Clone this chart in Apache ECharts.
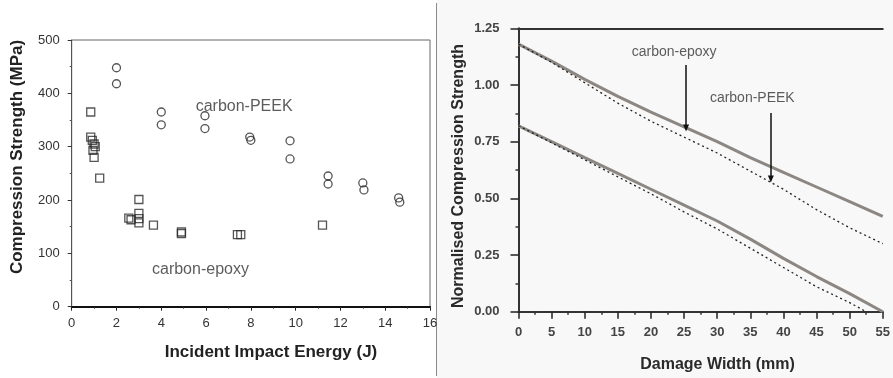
<!DOCTYPE html>
<html>
<head>
<meta charset="utf-8">
<script src="https://cdn.jsdelivr.net/npm/echarts@6/dist/echarts.min.js"></script>
<style>
html,body{margin:0;padding:0;background:#fff;}
#c{width:893px;height:378px;}
</style>
</head>
<body>
<div id="c"></div>
<script>
// ---- Left chart: compression strength vs impact energy ----
const peekEnergy   = [2.0, 2.0, 4.0, 4.0, 5.95, 5.95, 7.95, 8.0, 9.75, 9.75, 11.45, 11.45, 13.0, 13.05, 14.6, 14.65];
const peekStrength = [448, 418, 365, 341, 358, 334, 318, 312, 311, 277, 245, 230, 232, 219, 204, 196];
const epoxyEnergy   = [0.85, 0.85, 0.92, 1.0, 1.05, 0.95, 1.0, 1.25, 2.55, 2.65, 3.0, 3.0, 3.0, 3.0, 3.65, 4.9, 4.9, 7.4, 7.55, 11.2];
const epoxyStrength = [365, 318, 312, 305, 300, 293, 280, 241, 166, 163, 201, 175, 165, 157, 153, 140, 137, 135, 135, 153];
const leftXTicks = [0, 2, 4, 6, 8, 10, 12, 14, 16];
const leftYTicks = [0, 100, 200, 300, 400, 500];

// ---- Right chart: normalised strength vs damage width ----
const widthX        = [0, 5, 10, 15, 20, 25, 30, 35, 40, 45, 50, 55];
const upperSolid    = [1.18, 1.105, 1.025, 0.95, 0.88, 0.815, 0.75, 0.68, 0.615, 0.55, 0.485, 0.42];
const upperDotted   = [1.18, 1.10, 1.01, 0.92, 0.84, 0.77, 0.70, 0.62, 0.54, 0.45, 0.37, 0.30];
const lowerSolid    = [0.82, 0.75, 0.68, 0.61, 0.54, 0.47, 0.40, 0.32, 0.235, 0.155, 0.08, 0.0];
const lowerDottedX  = [0, 5, 10, 15, 20, 25, 30, 35, 40, 45, 50, 52.5];
const lowerDotted   = [0.82, 0.745, 0.67, 0.595, 0.52, 0.44, 0.365, 0.28, 0.195, 0.11, 0.04, 0.0];
const rightXTicks = [0, 5, 10, 15, 20, 25, 30, 35, 40, 45, 50, 55];
const rightYTicks = [0, 0.25, 0.5, 0.75, 1.0, 1.25];

const zip = (xs, ys) => xs.map((x, i) => [x, ys[i]]);
const FONT = '"Liberation Sans", Arial, sans-serif';

const chart = echarts.init(document.getElementById('c'), null, {renderer: 'canvas'});

const option = {
  animation: false,
  backgroundColor: '#ffffff',
  graphic: [
    {type: 'rect', shape: {x: 437, y: 0, width: 456, height: 378}, style: {fill: '#f8f8f8'}, z: -10, silent: true},
    {type: 'line', shape: {x1: 436.5, y1: 3, x2: 436.5, y2: 376}, style: {stroke: '#8a8a8a', lineWidth: 1}, silent: true},
    {type: 'text', x: 17.5, y: 157, rotation: Math.PI / 2,
      style: {text: 'Compression Strength (MPa)', font: 'bold 17px ' + FONT, fill: '#222', textAlign: 'center', textVerticalAlign: 'middle'}},
    {type: 'text', x: 271, y: 352,
      style: {text: 'Incident Impact Energy (J)', font: 'bold 17px ' + FONT, fill: '#222', textAlign: 'center', textVerticalAlign: 'middle'}},
    {type: 'text', x: 459, y: 176, rotation: Math.PI / 2,
      style: {text: 'Normalised Compression Strength', font: 'bold 16px ' + FONT, fill: '#2a2a2a', textAlign: 'center', textVerticalAlign: 'middle'}},
    {type: 'text', x: 717.5, y: 365,
      style: {text: 'Damage Width (mm)', font: 'bold 16px ' + FONT, fill: '#2a2a2a', textAlign: 'center', textVerticalAlign: 'middle'}}
  ],
  grid: [
    {left: 71.7, top: 40, width: 358.3, height: 266.7, show: true, borderColor: '#666', borderWidth: 1, backgroundColor: '#fff'},
    {left: 518.5, top: 28.3, width: 368.5, height: 283.4, show: false}
  ],
  xAxis: [
    {gridIndex: 0, type: 'value', min: leftXTicks[0], max: leftXTicks[leftXTicks.length - 1], interval: 2,
      axisLine: {show: true, onZero: false, lineStyle: {color: '#111', width: 2}},
      axisTick: {show: true, inside: false, length: 4, lineStyle: {color: '#222', width: 1}},
      minorTick: {show: true, splitNumber: 2, length: 2, lineStyle: {color: '#333'}},
      splitLine: {show: false},
      axisLabel: {color: '#333', fontSize: 13, fontFamily: FONT, margin: 10}},
    {gridIndex: 1, type: 'value', min: rightXTicks[0], max: rightXTicks[rightXTicks.length - 1], interval: 5,
      axisLine: {show: true, onZero: false, lineStyle: {color: '#333', width: 2}},
      axisTick: {show: true, inside: false, length: 7, lineStyle: {color: '#222', width: 1.5}},
      minorTick: {show: true, splitNumber: 2, length: 3, lineStyle: {color: '#333', width: 1.5}},
      splitLine: {show: false},
      axisLabel: {color: '#444', fontSize: 13, fontWeight: 'bold', fontFamily: FONT, margin: 14}},
    {gridIndex: 1, type: 'value', position: 'top', min: 0, max: 55,
      axisLine: {show: true, onZero: false, lineStyle: {color: '#333', width: 2}},
      axisTick: {show: false}, axisLabel: {show: false}, splitLine: {show: false}}
  ],
  yAxis: [
    {gridIndex: 0, type: 'value', min: leftYTicks[0], max: leftYTicks[leftYTicks.length - 1], interval: 100,
      axisLine: {show: true, onZero: false, lineStyle: {color: '#555', width: 1}},
      axisTick: {show: true, inside: false, length: 4, lineStyle: {color: '#333'}},
      minorTick: {show: true, splitNumber: 2, length: 2, lineStyle: {color: '#555'}},
      splitLine: {show: false},
      axisLabel: {color: '#333', fontSize: 13, fontFamily: FONT, margin: 12}},
    {gridIndex: 1, type: 'value', min: rightYTicks[0], max: rightYTicks[rightYTicks.length - 1], interval: 0.25,
      axisLine: {show: true, onZero: false, lineStyle: {color: '#333', width: 2}},
      axisTick: {show: true, inside: false, length: 8, lineStyle: {color: '#222', width: 1.5}},
      minorTick: {show: true, splitNumber: 2, length: 3, lineStyle: {color: '#333', width: 1.5}},
      splitLine: {show: false},
      axisLabel: {color: '#444', fontSize: 13, fontWeight: 'bold', fontFamily: FONT, margin: 19,
        formatter: v => v.toFixed(2)}}
  ],
  series: [
    {name: 'carbon-PEEK', type: 'scatter', xAxisIndex: 0, yAxisIndex: 0,
      data: zip(peekEnergy, peekStrength), symbol: 'circle', symbolSize: 8,
      itemStyle: {color: 'rgba(0,0,0,0)', borderColor: '#2a2a2a', borderWidth: 1.3}},
    {name: 'carbon-epoxy', type: 'scatter', xAxisIndex: 0, yAxisIndex: 0,
      data: zip(epoxyEnergy, epoxyStrength), symbol: 'rect', symbolSize: 8,
      itemStyle: {color: 'rgba(0,0,0,0)', borderColor: '#2a2a2a', borderWidth: 1.3}},
    {name: 'labelsLeft', type: 'scatter', xAxisIndex: 0, yAxisIndex: 0, symbolSize: 0, silent: true,
      data: [
        {value: [7.7, 375], label: {formatter: 'carbon-PEEK'}},
        {value: [5.75, 70], label: {formatter: 'carbon-epoxy'}}
      ],
      label: {show: true, position: 'inside', color: '#333', fontSize: 16, fontFamily: FONT}},
    {name: 'upperSolid', type: 'line', xAxisIndex: 1, yAxisIndex: 1, data: zip(widthX, upperSolid),
      symbol: 'none', lineStyle: {color: '#8c8782', width: 3}, z: 3},
    {name: 'upperDotted', type: 'line', xAxisIndex: 1, yAxisIndex: 1, data: zip(widthX, upperDotted),
      symbol: 'none', lineStyle: {color: '#222', width: 1.3, type: [2, 3]}, z: 4},
    {name: 'lowerSolid', type: 'line', xAxisIndex: 1, yAxisIndex: 1, data: zip(widthX, lowerSolid),
      symbol: 'none', lineStyle: {color: '#8c8782', width: 3}, z: 3},
    {name: 'lowerDotted', type: 'line', xAxisIndex: 1, yAxisIndex: 1, data: zip(lowerDottedX, lowerDotted),
      symbol: 'none', lineStyle: {color: '#222', width: 1.3, type: [2, 3]}, z: 4,
      markLine: {
        silent: true, symbol: ['none', 'triangle'], symbolSize: [6, 7],
        label: {show: false},
        lineStyle: {color: '#111', width: 1.5, type: 'solid'},
        data: [
          [{coord: [25.3, 1.088]}, {coord: [25.3, 0.81]}],
          [{coord: [38.1, 0.876]}, {coord: [38.1, 0.585]}]
        ]
      }},
    {name: 'labelsRight', type: 'scatter', xAxisIndex: 1, yAxisIndex: 1, symbolSize: 0, silent: true,
      data: [
        {value: [23.5, 1.147], label: {formatter: 'carbon-epoxy'}},
        {value: [35.3, 0.941], label: {formatter: 'carbon-PEEK'}}
      ],
      label: {show: true, position: 'inside', color: '#333', fontSize: 14, fontFamily: FONT}}
  ]
};
chart.setOption(option);
</script>
</body>
</html>
